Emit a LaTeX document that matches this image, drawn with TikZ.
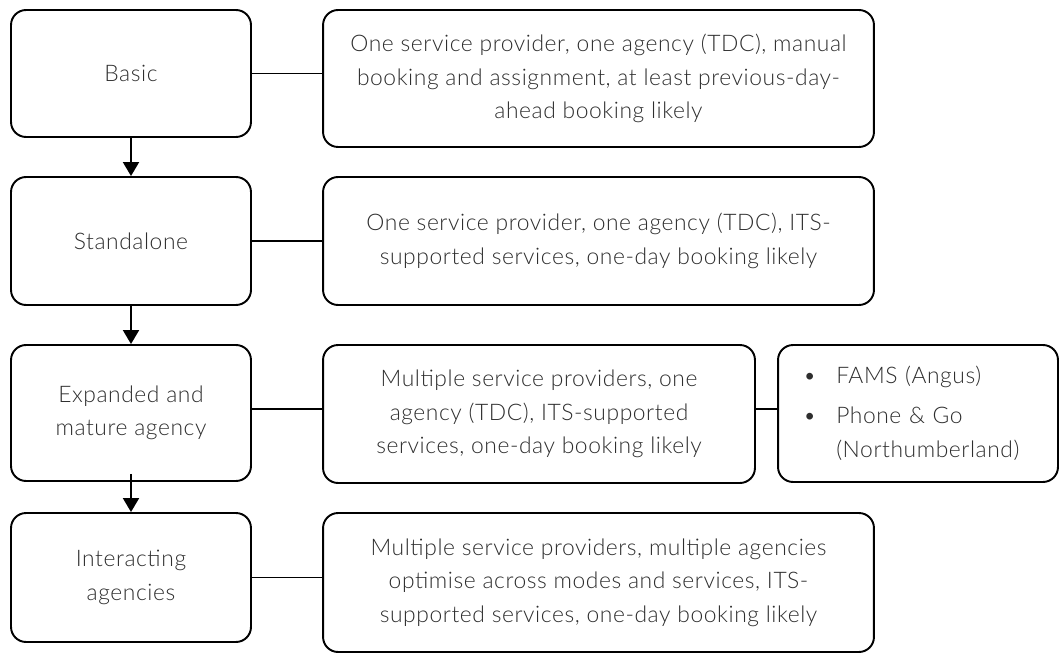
\documentclass[tikz,border=0pt]{standalone}
\usepackage{fontspec}
\setmainfont{Lato Light}[LetterSpace=2.5]
\usepackage{tikz}
\usetikzlibrary{arrows.meta,positioning,calc}
\definecolor{ink}{HTML}{000000}
\definecolor{txt}{HTML}{2E2E2E}

\begin{document}
\begin{tikzpicture}[x=0.02cm,y=-0.02cm,
  every node/.style={text=txt,font=\fontsize{13}{19}\selectfont},
  box/.style={draw=ink,line width=1.1pt,rounded corners=0.3cm,align=center,inner sep=0pt},
  stage/.style={box,minimum width=4.8cm,minimum height=2.54cm},
  note/.style={box,minimum width=11.02cm},
  flow/.style={ink,line width=1.1pt,-{Triangle[length=0.28cm,width=0.32cm]}},
  link/.style={ink,line width=1.1pt}]
\useasboundingbox (0,0) rectangle (1060,655);
% left column: stages
\node[stage] (L1) at (131,73.5) {Basic};
\node[stage,minimum height=2.56cm] (L2) at (131,241) {Standalone};
\node[stage,minimum height=2.72cm] (L3) at (131,413) {Expanded and\\mature agency};
\node[stage,minimum height=2.58cm] (L4) at (131,577.5) {Interacting\\agencies};
% right column: descriptions
\node[note,minimum height=2.74cm] (R1) at (598.5,78.5)
  {One service provider, one agency (TDC), manual\\booking and assignment, at least previous-day-\\ahead booking likely};
\node[note,minimum height=2.56cm] (R2) at (598.5,241)
  {One service provider, one agency (TDC), ITS-\\supported services, one-day booking likely};
\node[note,minimum width=8.64cm,minimum height=2.76cm] (R3) at (539,414)
  {Multiple service providers, one\\agency (TDC), ITS-supported\\services, one-day booking likely};
\node[note,minimum height=2.78cm] (R4) at (598.5,582.5)
  {Multiple service providers, multiple agencies\\optimise across modes and services, ITS-\\supported services, one-day booking likely};
% examples
\node[box,minimum height=2.74cm,align=left,inner xsep=0.5cm,text width=4.6cm] (ex) at (918,413.5)
  {\begin{tabular}{@{}l@{\hspace{0.4cm}}l@{}}
   \textbullet & FAMS (Angus)\\[0.14cm]
   \textbullet & Phone \& Go\\
               & (Northumberland)
   \end{tabular}};
% progression arrows
\draw[flow] (L1.south) -- (L2.north);
\draw[flow] (L2.south) -- (L3.north);
\draw[flow] ([yshift=0.16cm]L3.south) -- (L4.north);
% links to descriptions
\draw[link] (L1.east) -- (L1.east -| R1.west);
\draw[link] (L2.east) -- (L2.east -| R2.west);
\draw[link] ([yshift=0.08cm]L3.east) -- ([yshift=0.08cm]L3.east -| R3.west);
\draw[link] (L4.east) -- (L4.east -| R4.west);
\draw[link] ([yshift=0.08cm]L3.east -| R3.east) -- ([yshift=0.08cm]L3.east -| ex.west);
\end{tikzpicture}
\end{document}
